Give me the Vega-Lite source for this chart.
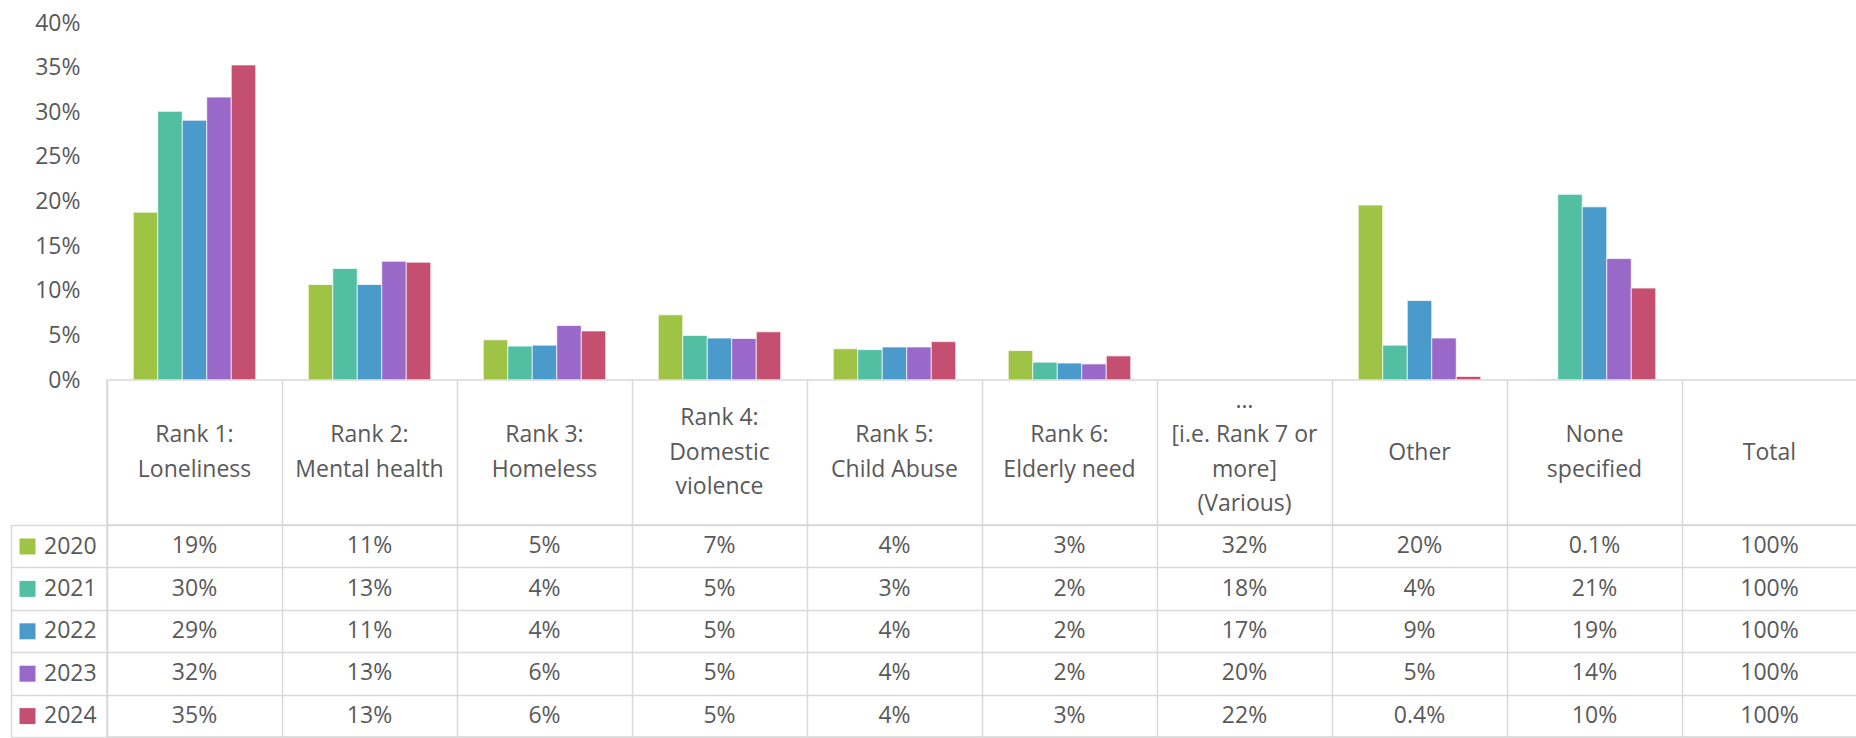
{
  "$schema": "https://vega.github.io/schema/vega-lite/v6.json",
  "padding": {"left": 9, "top": 12, "right": 0, "bottom": 0},
  "background": "white",
  "spacing": 0,
  "bounds": "flush",
  "config": {"font": "Open Sans", "view": {"stroke": null}},
  "datasets": {
    "cats": [
      {"category": "Rank 1: Loneliness", "header": "Rank 1:\nLoneliness"},
      {"category": "Rank 2: Mental health", "header": "Rank 2:\nMental health"},
      {"category": "Rank 3: Homeless", "header": "Rank 3:\nHomeless"},
      {"category": "Rank 4: Domestic violence", "header": "Rank 4:\nDomestic\nviolence"},
      {"category": "Rank 5: Child Abuse", "header": "Rank 5:\nChild Abuse"},
      {"category": "Rank 6: Elderly need", "header": "Rank 6:\nElderly need"},
      {"category": "… [i.e. Rank 7 or more] (Various)", "header": "…\n[i.e. Rank 7 or\nmore]\n(Various)"},
      {"category": "Other", "header": "Other"},
      {"category": "None specified", "header": "None\nspecified"},
      {"category": "Total", "header": "Total"}
    ],
    "vals": [
      {"category": "Rank 1: Loneliness", "year": "2020", "share": 0.188, "label": "19%"},
      {"category": "Rank 1: Loneliness", "year": "2021", "share": 0.301, "label": "30%"},
      {"category": "Rank 1: Loneliness", "year": "2022", "share": 0.291, "label": "29%"},
      {"category": "Rank 1: Loneliness", "year": "2023", "share": 0.317, "label": "32%"},
      {"category": "Rank 1: Loneliness", "year": "2024", "share": 0.353, "label": "35%"},
      {"category": "Rank 2: Mental health", "year": "2020", "share": 0.107, "label": "11%"},
      {"category": "Rank 2: Mental health", "year": "2021", "share": 0.125, "label": "13%"},
      {"category": "Rank 2: Mental health", "year": "2022", "share": 0.107, "label": "11%"},
      {"category": "Rank 2: Mental health", "year": "2023", "share": 0.133, "label": "13%"},
      {"category": "Rank 2: Mental health", "year": "2024", "share": 0.132, "label": "13%"},
      {"category": "Rank 3: Homeless", "year": "2020", "share": 0.045, "label": "5%"},
      {"category": "Rank 3: Homeless", "year": "2021", "share": 0.038, "label": "4%"},
      {"category": "Rank 3: Homeless", "year": "2022", "share": 0.039, "label": "4%"},
      {"category": "Rank 3: Homeless", "year": "2023", "share": 0.061, "label": "6%"},
      {"category": "Rank 3: Homeless", "year": "2024", "share": 0.055, "label": "6%"},
      {"category": "Rank 4: Domestic violence", "year": "2020", "share": 0.073, "label": "7%"},
      {"category": "Rank 4: Domestic violence", "year": "2021", "share": 0.050, "label": "5%"},
      {"category": "Rank 4: Domestic violence", "year": "2022", "share": 0.047, "label": "5%"},
      {"category": "Rank 4: Domestic violence", "year": "2023", "share": 0.0465, "label": "5%"},
      {"category": "Rank 4: Domestic violence", "year": "2024", "share": 0.054, "label": "5%"},
      {"category": "Rank 5: Child Abuse", "year": "2020", "share": 0.035, "label": "4%"},
      {"category": "Rank 5: Child Abuse", "year": "2021", "share": 0.034, "label": "3%"},
      {"category": "Rank 5: Child Abuse", "year": "2022", "share": 0.037, "label": "4%"},
      {"category": "Rank 5: Child Abuse", "year": "2023", "share": 0.037, "label": "4%"},
      {"category": "Rank 5: Child Abuse", "year": "2024", "share": 0.043, "label": "4%"},
      {"category": "Rank 6: Elderly need", "year": "2020", "share": 0.033, "label": "3%"},
      {"category": "Rank 6: Elderly need", "year": "2021", "share": 0.020, "label": "2%"},
      {"category": "Rank 6: Elderly need", "year": "2022", "share": 0.019, "label": "2%"},
      {"category": "Rank 6: Elderly need", "year": "2023", "share": 0.018, "label": "2%"},
      {"category": "Rank 6: Elderly need", "year": "2024", "share": 0.027, "label": "3%"},
      {"category": "… [i.e. Rank 7 or more] (Various)", "year": "2020", "share": 0.32, "label": "32%"},
      {"category": "… [i.e. Rank 7 or more] (Various)", "year": "2021", "share": 0.18, "label": "18%"},
      {"category": "… [i.e. Rank 7 or more] (Various)", "year": "2022", "share": 0.17, "label": "17%"},
      {"category": "… [i.e. Rank 7 or more] (Various)", "year": "2023", "share": 0.20, "label": "20%"},
      {"category": "… [i.e. Rank 7 or more] (Various)", "year": "2024", "share": 0.22, "label": "22%"},
      {"category": "Other", "year": "2020", "share": 0.196, "label": "20%"},
      {"category": "Other", "year": "2021", "share": 0.039, "label": "4%"},
      {"category": "Other", "year": "2022", "share": 0.089, "label": "9%"},
      {"category": "Other", "year": "2023", "share": 0.047, "label": "5%"},
      {"category": "Other", "year": "2024", "share": 0.004, "label": "0.4%"},
      {"category": "None specified", "year": "2020", "share": 0.001, "label": "0.1%"},
      {"category": "None specified", "year": "2021", "share": 0.208, "label": "21%"},
      {"category": "None specified", "year": "2022", "share": 0.194, "label": "19%"},
      {"category": "None specified", "year": "2023", "share": 0.136, "label": "14%"},
      {"category": "None specified", "year": "2024", "share": 0.103, "label": "10%"},
      {"category": "Total", "year": "2020", "share": 1, "label": "100%"},
      {"category": "Total", "year": "2021", "share": 1, "label": "100%"},
      {"category": "Total", "year": "2022", "share": 1, "label": "100%"},
      {"category": "Total", "year": "2023", "share": 1, "label": "100%"},
      {"category": "Total", "year": "2024", "share": 1, "label": "100%"}
    ]
  },
  "resolve": {"scale": {"x": "independent", "color": "independent"}, "legend": {"color": "independent"}},
  "vconcat": [
    {
      "width": 1750,
      "height": 357,
      "data": {"name": "vals"},
      "transform": [{"filter": {"not": {"field": "category", "oneOf": ["… [i.e. Rank 7 or more] (Various)", "Total"]}}}],
      "mark": {"type": "bar", "stroke": "white", "strokeWidth": 1, "strokeOpacity": 0.7},
      "encoding": {
        "x": {
          "field": "category", "type": "nominal",
          "scale": {"domain": ["Rank 1: Loneliness", "Rank 2: Mental health", "Rank 3: Homeless", "Rank 4: Domestic violence", "Rank 5: Child Abuse", "Rank 6: Elderly need", "… [i.e. Rank 7 or more] (Various)", "Other", "None specified", "Total"], "paddingInner": 0.3, "paddingOuter": 0.15},
          "axis": null
        },
        "xOffset": {"field": "year", "type": "nominal", "scale": {"paddingInner": 0, "paddingOuter": 0}},
        "y": {
          "field": "share", "type": "quantitative",
          "scale": {"domain": [0, 0.4]},
          "axis": {"values": [0, 0.05, 0.1, 0.15, 0.2, 0.25, 0.3, 0.35, 0.4], "format": ".0%", "title": null, "ticks": false, "domain": false, "grid": false, "labelPadding": 27, "labelFontSize": 23, "labelColor": "#595959", "labelFont": "Open Sans"}
        },
        "color": {
          "field": "year", "type": "nominal",
          "scale": {"domain": ["2020", "2021", "2022", "2023", "2024"], "range": ["#9fc445", "#52bfa2", "#4a9bcb", "#9a68c8", "#c44f70"]},
          "legend": null
        }
      }
    },
    {
      "width": 1750,
      "height": 145,
      "data": {"name": "cats"},
      "view": {"stroke": "#d9d9d9", "strokeWidth": 1.5},
      "mark": {"type": "text", "lineBreak": "\n", "lineHeight": 34.5, "fontSize": 23, "color": "#595959", "baseline": "middle", "font": "Open Sans", "dy": {"expr": "-(length(split(datum.header, '\\n')) - 1) * 17.25"}},
      "encoding": {
        "x": {
          "field": "category", "type": "nominal",
          "scale": {"domain": ["Rank 1: Loneliness", "Rank 2: Mental health", "Rank 3: Homeless", "Rank 4: Domestic violence", "Rank 5: Child Abuse", "Rank 6: Elderly need", "… [i.e. Rank 7 or more] (Various)", "Other", "None specified", "Total"], "paddingInner": 0, "paddingOuter": 0},
          "axis": {"grid": true, "tickBand": "extent", "labels": false, "ticks": false, "domain": false, "title": null, "gridColor": "#d9d9d9", "gridWidth": 1.5}
        },
        "text": {"field": "header"}
      }
    },
    {
      "width": 1750,
      "height": 212,
      "data": {"name": "vals"},
      "view": {"stroke": "#d9d9d9", "strokeWidth": 1.5},
      "encoding": {
        "x": {
          "field": "category", "type": "nominal",
          "scale": {"domain": ["Rank 1: Loneliness", "Rank 2: Mental health", "Rank 3: Homeless", "Rank 4: Domestic violence", "Rank 5: Child Abuse", "Rank 6: Elderly need", "… [i.e. Rank 7 or more] (Various)", "Other", "None specified", "Total"], "paddingInner": 0, "paddingOuter": 0},
          "axis": {"grid": true, "tickBand": "extent", "labels": false, "ticks": false, "domain": false, "title": null, "gridColor": "#d9d9d9", "gridWidth": 1.5}
        },
        "y": {
          "field": "year", "type": "nominal",
          "scale": {"domain": ["2020", "2021", "2022", "2023", "2024"], "paddingInner": 0, "paddingOuter": 0}
        }
      },
      "resolve": {"axis": {"y": "independent"}},
      "layer": [
        {
          "mark": {"type": "rect", "opacity": 0},
          "encoding": {
            "y": {
              "field": "year", "type": "nominal",
              "axis": {"orient": "left", "offset": 96, "grid": false, "tickBand": "extent", "labels": false, "ticks": true, "tickSize": -96, "tickColor": "#d9d9d9", "tickWidth": 1.5, "domain": true, "domainColor": "#d9d9d9", "domainWidth": 1.5, "title": null}
            },
            "color": {
              "field": "year", "type": "nominal",
              "scale": {"domain": ["2020", "2021", "2022", "2023", "2024"], "range": ["#9fc445", "#52bfa2", "#4a9bcb", "#9a68c8", "#c44f70"]},
              "legend": {"orient": "none", "legendX": -91, "legendY": 10, "title": null, "symbolType": "square", "symbolSize": 256, "symbolStrokeWidth": 0, "symbolOpacity": 1, "labelFontSize": 23, "labelFont": "Open Sans", "labelColor": "#595959", "labelOffset": 5, "rowPadding": 18.4, "padding": 0}
            }
          }
        },
        {
          "mark": {"type": "text", "fontSize": 23, "color": "#595959", "font": "Open Sans"},
          "encoding": {
            "y": {
              "field": "year", "type": "nominal",
              "axis": {"orient": "right", "grid": true, "tickBand": "extent", "labels": false, "ticks": false, "domain": false, "title": null, "gridColor": "#d9d9d9", "gridWidth": 1.5}
            },
            "text": {"field": "label"}
          }
        }
      ]
    }
  ]
}
